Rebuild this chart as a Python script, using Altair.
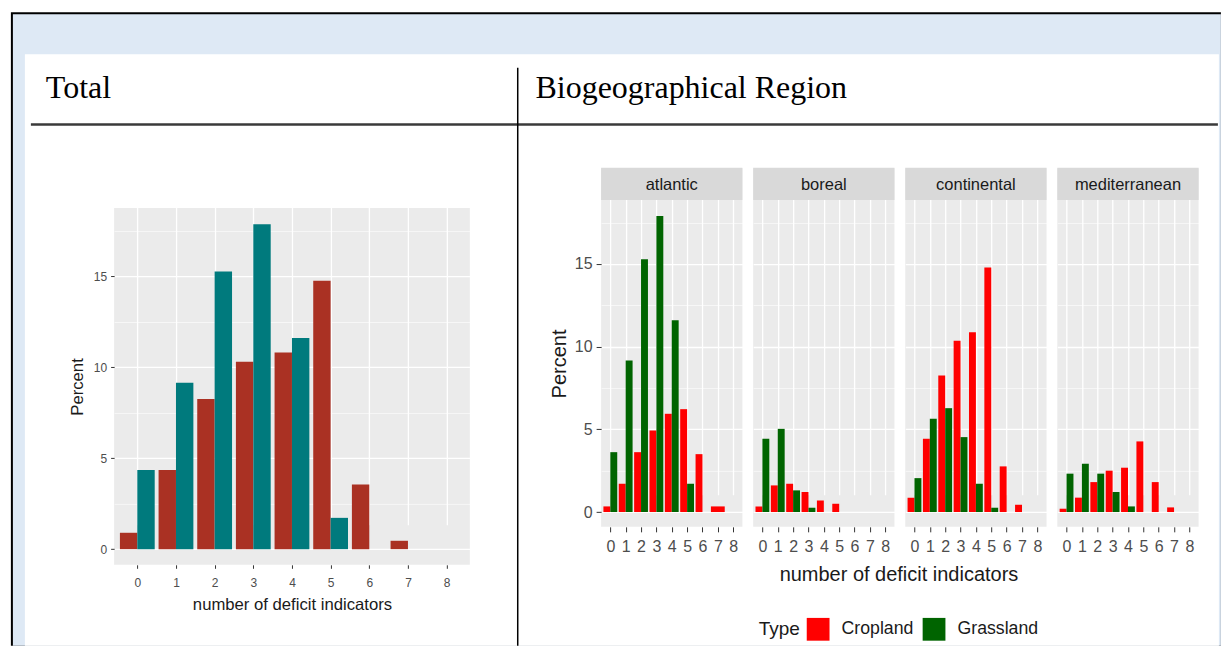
import altair as alt
import pandas as pd

# ---------------- data ----------------
N = [0, 1, 2, 3, 4, 5, 6, 7, 8]
TYPES = ["Cropland", "Grassland"]
REGIONS = ["atlantic", "boreal", "continental", "mediterranean"]

# None = no bar in that group (ggplot dodge then gives the other bar full width)
TOTAL_CROP = [0.9, 4.35, 8.25, 10.3, 10.8, 14.75, 3.55, 0.46, None]
TOTAL_GRASS = [4.35, 9.15, 15.25, 17.85, 11.6, 1.72, 0.0, 0.0, None]

ATL_CROP = [0.34, 1.71, 3.62, 4.93, 5.94, 6.22, 3.5, 0.34, None]
ATL_GRASS = [3.62, 9.16, 15.28, 17.9, 11.6, 1.71, 0.0, None, None]
BOR_CROP = [0.34, 1.61, 1.71, 1.21, 0.7, 0.5, None, None, None]
BOR_GRASS = [4.43, 5.03, 1.31, 0.26, 0.0, 0.0, None, None, None]
CON_CROP = [0.87, 4.43, 8.25, 10.35, 10.87, 14.78, 2.76, 0.44, None]
CON_GRASS = [2.05, 5.64, 6.28, 4.53, 1.71, 0.26, 0.0, 0.0, None]
MED_CROP = [0.2, 0.87, 1.81, 2.5, 2.68, 4.27, 1.81, 0.28, None]
MED_GRASS = [2.32, 2.92, 2.32, 1.21, 0.34, 0.0, 0.0, 0.0, None]

REGION_DATA = {
    "atlantic": (ATL_CROP, ATL_GRASS),
    "boreal": (BOR_CROP, BOR_GRASS),
    "continental": (CON_CROP, CON_GRASS),
    "mediterranean": (MED_CROP, MED_GRASS),
}

TOTAL_COLORS = ["#AA3123", "#007A7D"]
REGION_COLORS = ["#FF0000", "#006400"]
Y_TICKS = [0, 2.5, 5, 7.5, 10, 12.5, 15, 17.5]

FONT = "Liberation Sans"
SERIF = "Liberation Serif"


def make_rows(crop, grass, region):
    rows = []
    for i, n in enumerate(N):
        for t, vals, other in ((TYPES[0], crop, grass), (TYPES[1], grass, crop)):
            if vals[i] is None:
                continue
            rows.append({"region": region, "type": t, "n": n,
                         "value": vals[i], "alone": other[i] is None})
    return pd.DataFrame(rows)


one = pd.DataFrame({"k": [0]})

MAJOR = "datum.value % 5 === 0"


def dodge(ch):
    return ch.transform_calculate(
        x0="datum.alone ? datum.n - 0.45 : (datum.type == 'Cropland' ? datum.n - 0.45 : datum.n)"
    ).transform_calculate(
        x1="datum.alone ? datum.n + 0.45 : datum.x0 + 0.45"
    )


# ---------------- frame (document table) ----------------
FX, FY = 102.1, 168.0  # page position of this chart's origin
PAGE_R, PAGE_B = 1221, 646


def prect(x1, x2, y1, y2, color):
    return alt.Chart(one).mark_rect(color=color, opacity=1).encode(
        x=alt.value(x1 - FX), x2=alt.value(x2 - FX),
        y=alt.value(y1 - FY), y2=alt.value(y2 - FY))


def ptext(txt, x, y):
    return alt.Chart(one).mark_text(
        text=txt, font=SERIF, fontSize=32, color="black",
        align="left", baseline="alphabetic").encode(
        x=alt.value(x - FX), y=alt.value(y - FY))


frame = alt.layer(
    prect(10, PAGE_R, 12, PAGE_B, "black"),
    prect(12, PAGE_R, 14, PAGE_B, "#DEE9F5"),
    prect(24, PAGE_R - 2, 54, PAGE_B, "white"),
    prect(30, PAGE_R - 3, 123, 125.5, "#3A3A3A"),
    prect(516.5, 518, 67.5, PAGE_B, "black"),
    ptext("Total", 45, 98),
    ptext("Biogeographical Region", 535, 98),
).properties(width=1, height=1)

# ---------------- left: total ----------------
LW, LH, LTOP = 356, 397, 40
total_df = make_rows(TOTAL_CROP, TOTAL_GRASS, "total")

left_x_axis = alt.Axis(
    values=N, format="d", title="number of deficit indicators",
    grid=True, gridColor="white", gridWidth=1.3, domain=False,
    tickSize=3.5, tickColor="#333333", tickWidth=1,
    labelColor="#4D4D4D", labelFontSize=12, labelPadding=9,
    labelFlush=False, labelOverlap=False,
    titleFontSize=16.7, titlePadding=8, titleColor="#1A1A1A")
left_y_axis = alt.Axis(
    values=Y_TICKS, labelExpr=f"{MAJOR} ? datum.label : ''",
    title="Percent", grid=True, gridColor="white",
    gridWidth={"condition": {"test": MAJOR, "value": 1.3}, "value": 0.6},
    tickOpacity={"condition": {"test": MAJOR, "value": 1}, "value": 0},
    domain=False, tickSize=3.5, tickColor="#333333", tickWidth=1,
    labelColor="#4D4D4D", labelFontSize=12, labelPadding=4,
    labelFlush=False, titleFontSize=16.7, titlePadding=7, titleColor="#1A1A1A")

left_bars = dodge(alt.Chart(total_df)).mark_bar(opacity=1).encode(
    x=alt.X("x0:Q", scale=alt.Scale(domain=[-0.6, 8.6], nice=False, zero=False), axis=left_x_axis),
    x2=alt.X2("x1"),
    y=alt.Y("value:Q", scale=alt.Scale(domain=[-0.86, 18.74], range=[LH, LTOP], nice=False, zero=False),
            axis=left_y_axis),
    y2=alt.datum(0),
    color=alt.condition("datum.type == 'Cropland'", alt.value(TOTAL_COLORS[0]), alt.value(TOTAL_COLORS[1])),
)
left_cover = alt.Chart(one).mark_rect(color="white", opacity=1).encode(
    x=alt.value(-2), x2=alt.value(LW + 2), y=alt.value(-2), y2=alt.value(LTOP))
left = alt.layer(left_bars, left_cover).properties(
    width=LW, height=LH, view=alt.ViewBackground(fill="#EBEBEB", strokeWidth=0))

spacer = alt.Chart(one).mark_point(opacity=0).encode(
    x=alt.value(0), y=alt.value(0)).properties(width=110.6, height=1)

# ---------------- right: regions ----------------
PW, PH, STRIP = 141.4, 359, 32


def panel(region, first):
    crop, grass = REGION_DATA[region]
    df = make_rows(crop, grass, region)
    x_axis = alt.Axis(
        values=N, format="d", title=None, grid=True, gridColor="white", gridWidth=1.3,
        domain=False, tickSize=5, tickColor="#333333", tickWidth=1,
        labelColor="#4D4D4D", labelFontSize=16, labelPadding=7,
        labelFlush=False, labelOverlap=False, labelBound=False)
    if first:
        y_axis = alt.Axis(
            values=Y_TICKS, labelExpr=f"{MAJOR} ? datum.label : ''",
            title="Percent", grid=True, gridColor="white",
            gridWidth={"condition": {"test": MAJOR, "value": 1.3}, "value": 0.6},
            tickOpacity={"condition": {"test": MAJOR, "value": 1}, "value": 0},
            domain=False, tickSize=5, tickColor="#333333", tickWidth=1,
            labelColor="#4D4D4D", labelFontSize=16, labelPadding=4,
            labelFlush=False, titleFontSize=20, titlePadding=5, titleColor="#1A1A1A")
        legend = alt.Legend(
            orient="none", legendX=157.7, legendY=450, direction="horizontal",
            title="Type", titleOrient="left", titleFontSize=19, titleFontWeight="normal",
            titleColor="#1A1A1A", titleBaseline="middle", titlePadding=6,
            labelFontSize=17.7, labelColor="#1A1A1A", labelOffset=12,
            symbolType="square", symbolSize=520, symbolStrokeWidth=0,
            symbolOpacity=1, columnPadding=9)
    else:
        y_axis = alt.Axis(
            values=Y_TICKS, labels=False, ticks=False, title=None, domain=False,
            grid=True, gridColor="white",
            gridWidth={"condition": {"test": MAJOR, "value": 1.3}, "value": 0.6})
        legend = None
    bars = dodge(alt.Chart(df)).mark_bar(opacity=1).encode(
        x=alt.X("x0:Q", scale=alt.Scale(domain=[-0.6, 8.6], nice=False, zero=False), axis=x_axis),
        x2=alt.X2("x1"),
        y=alt.Y("value:Q", scale=alt.Scale(domain=[-0.895, 18.86], range=[PH, STRIP], nice=False, zero=False),
                axis=y_axis),
        y2=alt.datum(0),
        color=alt.Color("type:N", scale=alt.Scale(domain=TYPES, range=REGION_COLORS), legend=legend),
    )
    strip = alt.Chart(one).mark_rect(color="#D9D9D9", opacity=1).encode(
        x=alt.value(0), x2=alt.value(PW), y=alt.value(-0.5), y2=alt.value(STRIP))
    strip_text = alt.Chart(one).mark_text(
        text=region, font=FONT, fontSize=16.5, color="#1A1A1A", baseline="middle").encode(
        x=alt.value(PW / 2), y=alt.value(STRIP / 2 + 1))
    layers = [bars, strip, strip_text]
    if first:
        layers.append(alt.Chart(one).mark_text(
            text="number of deficit indicators", font=FONT, fontSize=20,
            color="#1A1A1A", baseline="middle").encode(
            x=alt.value(298.1), y=alt.value(407)))
    return alt.layer(*layers).properties(
        width=PW, height=PH, view=alt.ViewBackground(fill="#EBEBEB", strokeWidth=0))


panels = [panel(r, i == 0) for i, r in enumerate(REGIONS)]

chart = alt.hconcat(
    frame, left, spacer, *panels, spacing=10.2, bounds="flush"
).resolve_scale(
    x="independent", y="independent", color="independent"
).properties(
    padding={"left": 2, "top": 4, "right": 0, "bottom": 0}
).configure_view(
    strokeWidth=0
).configure_axis(
    labelFont=FONT, titleFont=FONT, titleFontWeight="normal"
).configure_legend(
    labelFont=FONT, titleFont=FONT
)

chart.save("out.html", embed_options={"renderer": "svg", "actions": False})
